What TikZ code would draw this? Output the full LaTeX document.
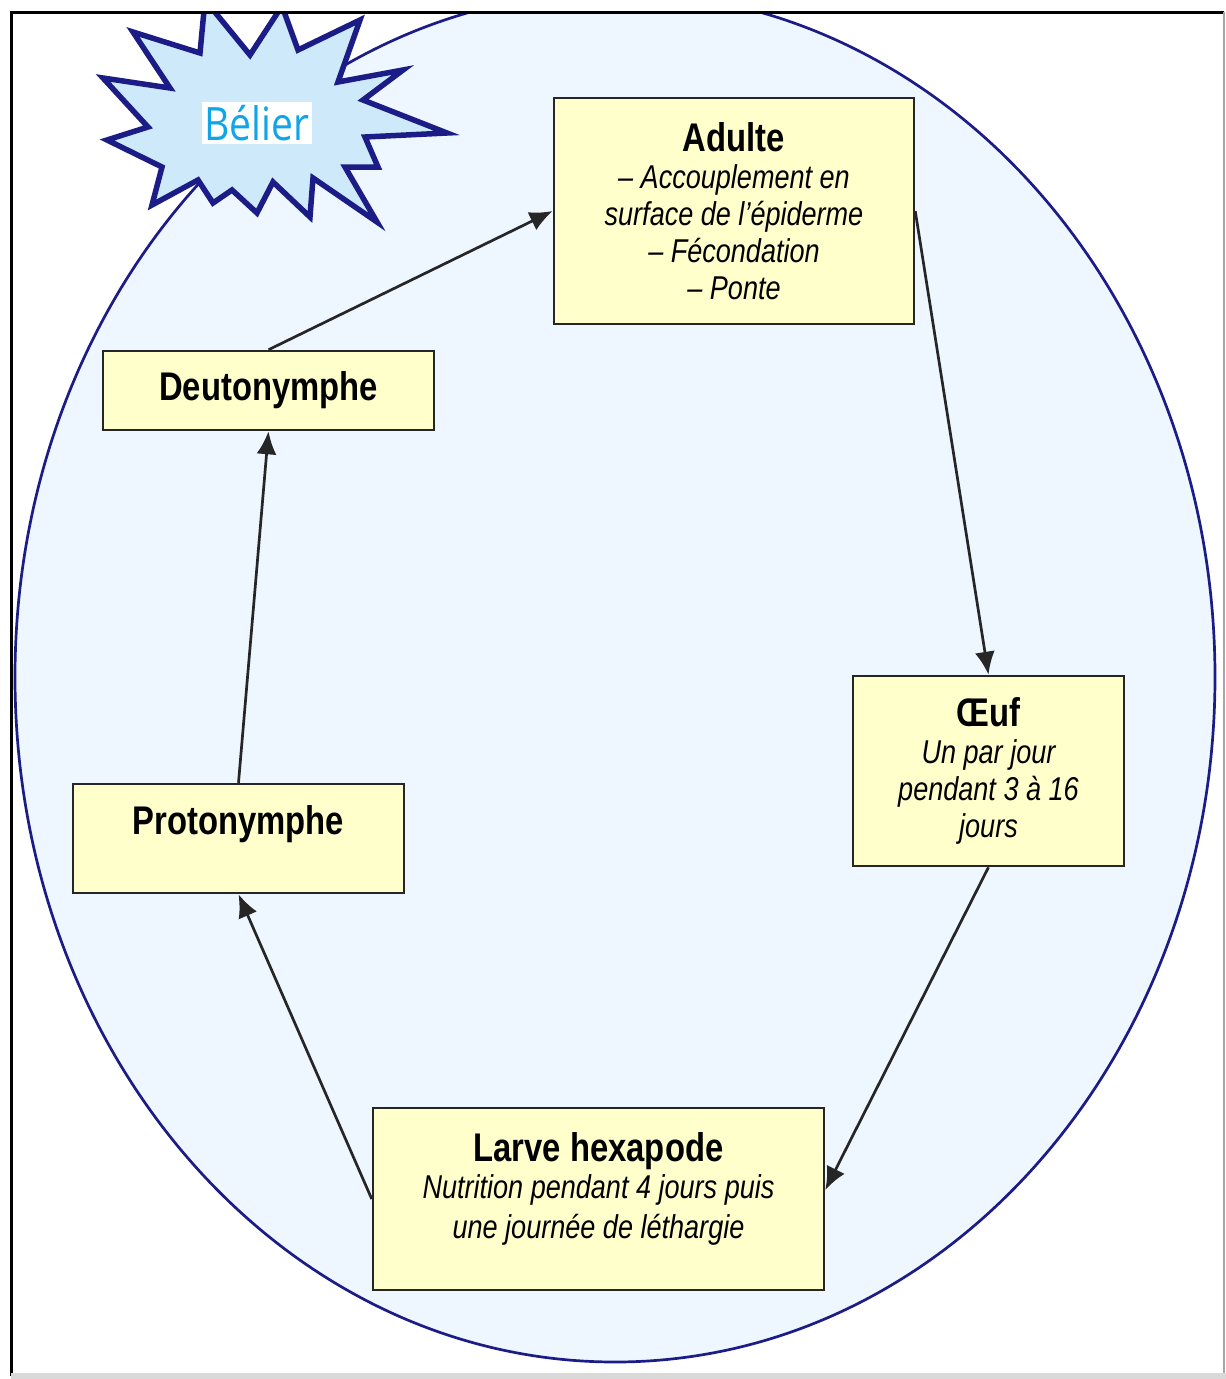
\documentclass[tikz,border=0pt]{standalone}
\usepackage{fontspec}
\setmainfont{Liberation Sans}[FakeStretch=0.82]
\newfontfamily\belierfont{Open Sans}[FakeStretch=0.85]
\usetikzlibrary{arrows.meta}
\definecolor{navyline}{RGB}{28,28,135}
\definecolor{ellipsefill}{RGB}{238,247,255}
\definecolor{starfill}{RGB}{205,233,250}
\definecolor{boxfill}{RGB}{255,255,204}
\definecolor{belierblue}{RGB}{15,165,232}
\newcommand{\titre}[1]{{\fontsize{40}{44}\selectfont\bfseries\upshape #1}}

\begin{document}
\begin{tikzpicture}[x=1pt, y=-1pt,
        etape/.style 2 args={draw=black!85, line width=2.5pt, fill=boxfill, minimum width=#1, minimum height=#2, inner sep=0pt},
        texte/.style={align=center, inner sep=0pt, font=\fontsize{33}{37}\selectfont\itshape},
        fleche/.style={-{Latex[length=23pt,width=20pt]}, line width=2.7pt, black!85}]   % Pfeilspitzen
        \useasboundingbox (0,0) rectangle (1226,1379);
        % Ellipse und Stern
        \begin{scope}
            \clip (11,12) rectangle (1224,1375);
            \draw[navyline, line width=2.7pt, fill=ellipsefill] (615,677) ellipse [x radius=600, y radius=685];
            \draw[navyline, line width=5.5pt, fill=starfill, line join=miter]
                (133,32) -- (200,53) -- (205,0) -- (250,55) -- (282,6) -- (298,50) -- (360,20)
                -- (338,82) -- (403,70) -- (363,100) -- (447,133) -- (365,137) -- (378,167)
                -- (345,167) -- (377,222) -- (313,178) -- (310,217) -- (273,182) -- (257,213)
                -- (232,190) -- (213,203) -- (198,180) -- (152,205) -- (162,167) -- (107,140)
                -- (148,127) -- (103,78) -- (170,88) -- cycle;
        \end{scope}
        \node[fill=white, text=belierblue, font=\belierfont\fontsize{46}{46}\selectfont, inner sep=3pt] (belier) at (257,123) {Bélier};
        % Rahmen
        \draw[black, line width=3pt] (11,1376) -- (11,12) -- (1224,12);
        \draw[gray!70, line width=1.5pt] (1224,12) -- (1224,1376);
        \fill[gray!30] (11,1373) rectangle (1226,1379);
        % Kästen
        \node[etape={360pt}{226pt}] (adulte) at (734,211) {};
        \node[etape={331pt}{79pt}] (deuto) at (268.5,390.5) {};
        \node[etape={331pt}{109pt}] (proto) at (238.5,838.5) {};
        \node[etape={271pt}{190pt}] (oeuf) at (988.5,771) {};
        \node[etape={451pt}{182pt}] (larve) at (598.5,1199) {};
        % Beschriftung
        \node[texte] (adulte-t) at (adulte) {\titre{Adulte}\\ -- Accouplement en\\ surface de l'épiderme\\ -- Fécondation\\ -- Ponte};
        \node[texte] (deuto-t) at (deuto) {\titre{Deutonymphe}};
        \node[texte] (proto-t) at ([yshift=14pt]proto) {\titre{Protonymphe}};
        \node[texte] (oeuf-t) at (oeuf) {\titre{Œuf}\\ Un par jour\\ pendant 3 à 16\\ jours};
        \node[texte] (larve-t) at ([yshift=10pt]larve) {\titre{Larve hexapode}\\ Nutrition pendant 4 jours puis\\[3pt] une journée de léthargie};
        % Zyklus
        \draw[fleche] (deuto.north) -- (adulte.west);
        \draw[fleche] (adulte.east) -- (oeuf.north);
        \draw[fleche] (oeuf.south) -- ([yshift=9pt]larve.east);
        \draw[fleche] (larve.west) -- (proto.south);
        \draw[fleche] (proto.north) -- (deuto.south);
\end{tikzpicture}
\end{document}
